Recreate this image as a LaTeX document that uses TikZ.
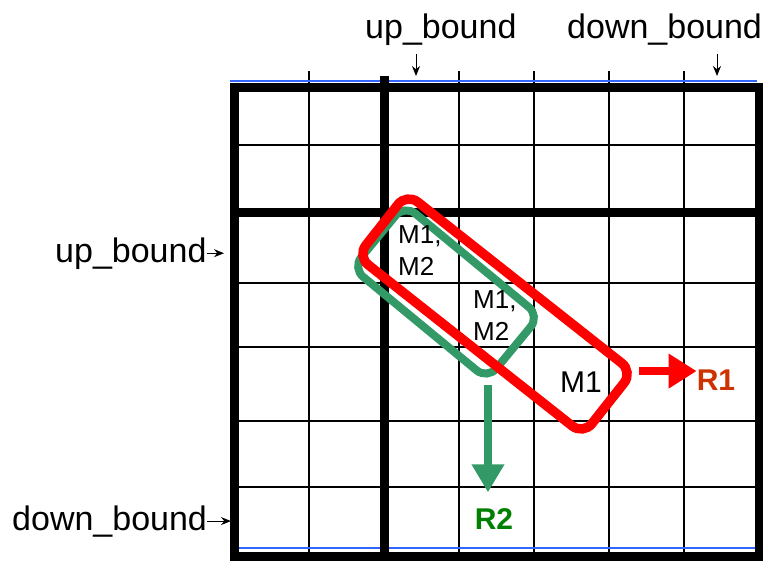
\documentclass[tikz,border=0pt]{standalone}
\usepackage{fontspec}
\setmainfont{Liberation Sans}
\usetikzlibrary{arrows.meta,positioning,calc}
\definecolor{boxred}{HTML}{FF0000}
\definecolor{rlabel}{HTML}{CC3300}
\definecolor{boxgreen}{HTML}{339966}
\definecolor{glabel}{HTML}{008000}
\definecolor{edgeblue}{HTML}{3366FF}

\begin{document}
\begin{tikzpicture}[x=1pt,y=-1pt,
      gridline/.style={black,line width=1.2pt},
      heavy/.style={black,line width=9pt},
      lbl/.style={font=\fontsize{34}{40}\selectfont,inner sep=0pt},
      pointer/.style={-{Stealth[length=10pt,width=8pt]},line width=1pt},
      cell/.style={font=\fontsize{26}{32}\selectfont,align=left,inner sep=0pt},
      mbox/.style={draw,rounded corners=14pt,inner sep=0pt},
      res/.style={font=\bfseries\fontsize{30}{36}\selectfont,inner sep=0pt},
      fat/.style={line width=7.5pt}]
    \useasboundingbox (0,0) rectangle (763,560);
    % grid
    \foreach \x in {309,459,534,609,684}
      \draw[gridline] (\x,71) -- (\x,556);
    \foreach \y in {145,283,347,421,487}
      \draw[gridline] (234,\y) -- (759,\y);
    \draw[edgeblue,line width=2.5pt] (230,81) -- (757,81);
    \draw[edgeblue,line width=2pt] (238,548) -- (755,548);
    \draw[heavy] (234,87) rectangle (759,556);
    \draw[heavy] (384,76) -- (384,556);
    \draw[heavy] (234,212) -- (759,212);
    % bounds
    \node[lbl,anchor=base west] (ubtop) at (365,38) {up\_bound};
    \node[lbl,anchor=base west] (dbtop) at (567,38) {down\_bound};
    \node[lbl,anchor=base west] (ubside) at (55,262) {up\_bound};
    \node[lbl,anchor=base west] (dbside) at (12,530) {down\_bound};
    \coordinate (ubmark) at (416,76);
    \coordinate (dbmark) at (717,76);
    \coordinate (ubedge) at (224,0);
    \coordinate (dbedge) at (231,0);
    \draw[pointer] ($(ubmark |- ubtop.south)+(0,9)$) -- (ubmark);
    \draw[pointer] ($(dbmark |- dbtop.south)+(0,9)$) -- (dbmark);
    \draw[pointer] (ubside.east) -- (ubside.east -| ubedge);
    \draw[pointer] (dbside.east) -- (dbside.east -| dbedge);
    % match boxes
    \node[mbox,draw=boxgreen,line width=8pt,minimum width=175pt,
          minimum height=82pt,rotate=-39.5] (m2box) at (446,292) {};
    \node[mbox,draw=boxred,line width=9.5pt,minimum width=288pt,
          minimum height=80pt,rotate=-38.3] (m1box) at (495,314) {};
    \node[res,text=rlabel] (r1) at (716,380) {R1};
    \node[res,text=glabel] (r2) at (494,519) {R2};
    \draw[fat,boxred,-{Triangle[length=28pt,width=33pt]}]
      (m1box.north east) -- (m1box.north east -| r1.west);
    \draw[fat,boxgreen,-{Triangle[length=28pt,width=31pt]},shorten >=16pt]
      (m2box.south east) -- (m2box.south east |- r2.north);
    \node[cell,anchor=north west] (c1) at (398,225) {M1,\\M2};
    \node[cell,anchor=north west] (c2) at (473,290) {M1,\\M2};
    \node[font=\fontsize{30}{36}\selectfont,inner sep=0pt,anchor=base west]
      (c3) at (560,392) {M1};
  \end{tikzpicture}
\end{document}
